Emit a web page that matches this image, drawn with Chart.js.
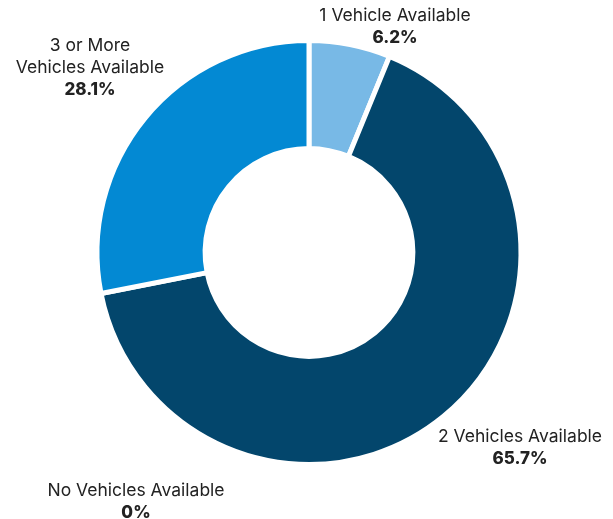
<!DOCTYPE html>
<html>
<head>
<meta charset="utf-8">
<script src="https://cdn.jsdelivr.net/npm/chart.js@4"></script>
<style>
    html, body { margin: 0; padding: 0; background: #fff; }
    #wrap { width: 613px; height: 519px; position: relative; }
</style>
</head>
<body>
<div id="wrap"><canvas id="vehChart"></canvas></div>
<script>
const categories = ['1 Vehicle Available', '2 Vehicles Available', 'No Vehicles Available', '3 or More Vehicles Available'];
const shares = [6.2, 65.7, 0, 28.1];
const shareLabels = ['6.2%', '65.7%', '0%', '28.1%'];
const sliceColors = ['#78b9e6', '#03466c', '#0a4f78', '#0389d3'];

// label lines + where to put them (relative to chart center)
const labelLines = [
    ['1 Vehicle Available'],
    ['2 Vehicles Available'],
    ['No Vehicles Available'],
    ['3 or More', 'Vehicles Available']
];
const labelSpots = [
    { dx: 86, dy: -237 },
    { dx: 211, dy: 184 },
    { dx: -173, dy: 238 },
    { dx: -219, dy: -207 }
];

const outsideLabels = {
    id: 'outsideLabels',
    afterDraw(chart) {
        const ctx = chart.ctx;
        const meta = chart.getDatasetMeta(0);
        const arc = meta.data[0];
        const cx = arc.x, cy = arc.y;
        ctx.save();
        ctx.textAlign = 'center';
        ctx.textBaseline = 'middle';
        labelLines.forEach((lines, i) => {
            const x = cx + labelSpots[i].dx;
            let y = cy + labelSpots[i].dy;
            ctx.fillStyle = '#222';
            ctx.font = '17.5px Inter, "Noto Sans", sans-serif';
            lines.forEach(line => {
                ctx.fillText(line, x, y);
                y += 22;
            });
            ctx.font = '800 17px Inter, "Noto Sans", sans-serif';
            ctx.fillText(shareLabels[i], x, y);
        });
        ctx.restore();
    }
};

const ctx = document.getElementById('vehChart').getContext('2d');
new Chart(ctx, {
    type: 'doughnut',
    data: {
        labels: categories,
        datasets: [{
            data: shares,
            backgroundColor: sliceColors,
            borderColor: '#fff',
            borderWidth: 5
        }]
    },
    options: {
        responsive: true,
        maintainAspectRatio: false,
        animation: false,
        cutout: '49%',
        layout: {
            padding: { top: 38, bottom: 52, left: 5, right: 0 }
        },
        plugins: {
            legend: { display: false },
            tooltip: { enabled: false }
        }
    },
    plugins: [outsideLabels]
});
</script>
</body>
</html>
